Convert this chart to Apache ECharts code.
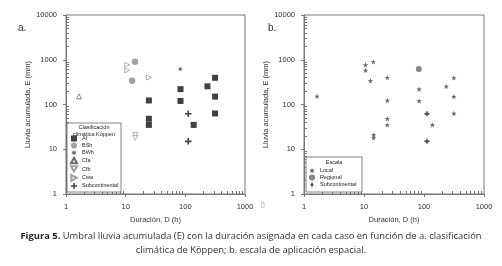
<!DOCTYPE html>
<html>
<head>
<meta charset="utf-8">
<script src="https://cdn.jsdelivr.net/npm/echarts@6/dist/echarts.min.js"></script>
<style>
  html, body { margin: 0; padding: 0; background: #fff; }
  #chart { width: 502px; height: 266px; }
</style>
</head>
<body>
<div id="chart"></div>
<script>
// [duración D (h), lluvia E (mm)]
const af = [[24.5, 123], [24.5, 48], [24.5, 35], [83, 220], [83, 120], [138, 35], [235, 255], [315, 395], [315, 150], [315, 63]]
const bsh = [[14.3, 900], [12.8, 340]]
const bwh = [[82, 620]]
const cfa = [[1.65, 152]]
const cfb = [[14.5, 21], [14.5, 18]]
const cwa = [[10.6, 770], [10.6, 580], [24.5, 400]]
const subcont = [[112, 62], [112, 15]]

// escala espacial (panel b)
const local = [...af, ...bsh, ...cfa, ...cfb, ...cwa]
const regional = bwh

const minorIn = (decades) => {
  const out = []
  for (let d = 0; d < decades; d++) {
    for (let k = 2; k <= 9; k++) out.push(d + Math.log10(k))
  }
  return out
}

const sym = {
  downTri: 'path://M0,0L10,0L5,9Z',
  rightTri: 'path://M0,0L9,5L0,10Z',
  upTri: 'path://M5,0L10,9L0,9Z',
  plus: 'path://M3,0H5V3H8V5H5V8H3V5H0V3H3Z',
  star: 'path://M5,0L6.2,3.6L10,3.6L6.9,5.8L8.1,9.5L5,7.2L1.9,9.5L3.1,5.8L0,3.6L3.8,3.6Z',
  burst: 'path://M5,0L6,3.3L9,1.5L7,4.3L10,5L7,5.7L9,8.5L6,6.7L5,10L4,6.7L1,8.5L3,5.7L0,5L3,4.3L1,1.5L4,3.3Z',
  phi: 'path://M4.5,0H5.5V2.5C7,3 7.5,4 7.5,5C7.5,6 7,7 5.5,7.5V10H4.5V7.5C3,7 2.5,6 2.5,5C2.5,4 3,3 4.5,2.5Z'
}

const font = 'Liberation Sans, Arial, sans-serif'
const lineColor = '#777'

const mainX = (grid) => ({
  type: 'log', gridIndex: grid, logBase: 10, min: 1, max: 1000, position: 'bottom',
  name: 'Duración, D (h)', nameLocation: 'middle', nameGap: 19,
  nameTextStyle: { fontSize: 7.5, color: '#333', fontFamily: font },
  axisLine: { lineStyle: { color: lineColor } },
  axisTick: { length: 3, lineStyle: { color: lineColor } },
  axisLabel: { fontSize: 7.5, color: '#333', fontFamily: font, margin: 9, formatter: v => String(Math.round(v)) },
  splitLine: { show: false }
})
const minorX = (grid) => ({
  type: 'value', gridIndex: grid, min: 0, max: 3, position: 'bottom',
  axisLine: { show: false },
  axisTick: { show: true, inside: true, length: 3, customValues: minorIn(3), lineStyle: { color: lineColor } },
  axisLabel: { show: false },
  splitLine: { show: false }
})
const mainY = (grid) => ({
  type: 'log', gridIndex: grid, logBase: 10, min: 1, max: 10000, position: 'left',
  name: 'Lluvia acumulada, E (mm)', nameLocation: 'middle', nameGap: 32,
  nameTextStyle: { fontSize: 7.5, color: '#333', fontFamily: font },
  axisLine: { lineStyle: { color: lineColor } },
  axisTick: { length: 3, lineStyle: { color: lineColor } },
  axisLabel: { fontSize: 7.5, color: '#333', fontFamily: font, margin: 9, formatter: v => String(Math.round(v)) },
  splitLine: { show: false }
})
const minorY = (grid) => ({
  type: 'value', gridIndex: grid, min: 0, max: 4, position: 'left',
  axisLine: { show: false },
  axisTick: { show: true, inside: true, length: 3, customValues: minorIn(4), lineStyle: { color: lineColor } },
  axisLabel: { show: false },
  splitLine: { show: false }
})

const scatter = (name, data, panel, symbol, size, style) => ({
  name, type: 'scatter', data, symbol, symbolSize: size,
  xAxisIndex: panel * 2, yAxisIndex: panel * 2,
  itemStyle: style, emphasis: { disabled: true }
})

const legendBase = {
  orient: 'vertical', itemWidth: 6, itemHeight: 6, itemGap: 1.1, padding: 0, z: 5,
  textStyle: { fontSize: 5.5, lineHeight: 6, color: '#222', fontFamily: font },
  selectedMode: false
}

const chart = echarts.init(document.getElementById('chart'))
chart.setOption({
  animation: false,
  grid: [
    { left: 66, top: 15, width: 179, height: 179, show: true, borderColor: lineColor, borderWidth: 1 },
    { left: 304, top: 15, width: 180, height: 179, show: true, borderColor: lineColor, borderWidth: 1 }
  ],
  xAxis: [mainX(0), minorX(0), mainX(1), minorX(1)],
  yAxis: [mainY(0), minorY(0), mainY(1), minorY(1)],
  legend: [
    Object.assign({}, legendBase, {
      left: 70, top: 135.5,
      data: [
        { name: 'Af', icon: 'rect' },
        { name: 'BSh', icon: 'circle' },
        { name: 'BWh', icon: sym.burst },
        { name: 'Cfa', icon: sym.upTri },
        { name: 'Cfb', icon: sym.downTri },
        { name: 'Cwa', icon: sym.rightTri },
        { name: 'Subcontinental', icon: sym.plus }
      ]
    }),
    Object.assign({}, legendBase, {
      left: 309, top: 167.5,
      data: [
        { name: 'Local', icon: sym.star },
        { name: 'Regional', icon: 'circle' },
        { name: 'Subcontinental ', icon: sym.phi }
      ]
    })
  ],
  series: [
    scatter('Af', af, 0, 'rect', 6, { color: '#111' }),
    scatter('BSh', bsh, 0, 'circle', 6.5, { color: '#8a8a8a' }),
    scatter('BWh', bwh, 0, sym.burst, 5, { color: '#333' }),
    scatter('Cfa', cfa, 0, sym.upTri, 5, { color: '#fff', borderColor: '#444', borderWidth: 0.8 }),
    scatter('Cfb', cfb, 0, sym.downTri, 5, { color: '#fff', borderColor: '#888', borderWidth: 0.8 }),
    scatter('Cwa', cwa, 0, sym.rightTri, 5, { color: '#fff', borderColor: '#888', borderWidth: 0.8 }),
    scatter('Subcontinental', subcont, 0, sym.plus, 6.5, { color: '#111' }),
    scatter('Local', local, 1, sym.star, 5.5, { color: '#444' }),
    scatter('Regional', regional, 1, 'circle', 6, { color: '#666' }),
    scatter('Subcontinental ', subcont, 1, sym.phi, 5.5, { color: '#222' })
  ],
  graphic: [
    { type: 'rect', shape: { x: 67, y: 123, width: 54, height: 69 }, style: { fill: '#fff', stroke: '#666', lineWidth: 0.8 }, z: 3, silent: true },
    { type: 'text', x: 94, y: 124, z: 4, style: { text: 'Clasificación\nclimática Köppen', fill: '#222', font: '5.5px ' + font, align: 'center', lineHeight: 6.8 } },
    { type: 'rect', shape: { x: 306, y: 157, width: 56, height: 35 }, style: { fill: '#fff', stroke: '#666', lineWidth: 0.8 }, z: 3, silent: true },
    { type: 'text', x: 334, y: 159, z: 4, style: { text: 'Escala', fill: '#222', font: '5.5px ' + font, align: 'center' } },
    { type: 'text', x: 18, y: 23, style: { text: 'a.', fill: '#333', font: '10px ' + font } },
    { type: 'text', x: 268, y: 23, style: { text: 'b.', fill: '#333', font: '10px ' + font } },
    { type: 'text', x: 261, y: 202, style: { text: '▯', fill: '#777', font: '7px DejaVu Sans' } },
    {
      type: 'text', x: 251, y: 232,
      style: {
        text: '{b|Figura 5.} Umbral lluvia acumulada (E) con la duración asignada en cada caso en función de a. clasificación',
        align: 'center', fill: '#333', font: '9.4px Open Sans',
        rich: { b: { fontWeight: 'bold', fontSize: 9.4, fontFamily: 'Open Sans', fill: '#222' } }
      }
    },
    { type: 'text', x: 251, y: 245.5, style: { text: 'climática de Köppen; b. escala de aplicación espacial.', align: 'center', fill: '#333', font: '9.4px Open Sans' } }
  ]
})
</script>
</body>
</html>
